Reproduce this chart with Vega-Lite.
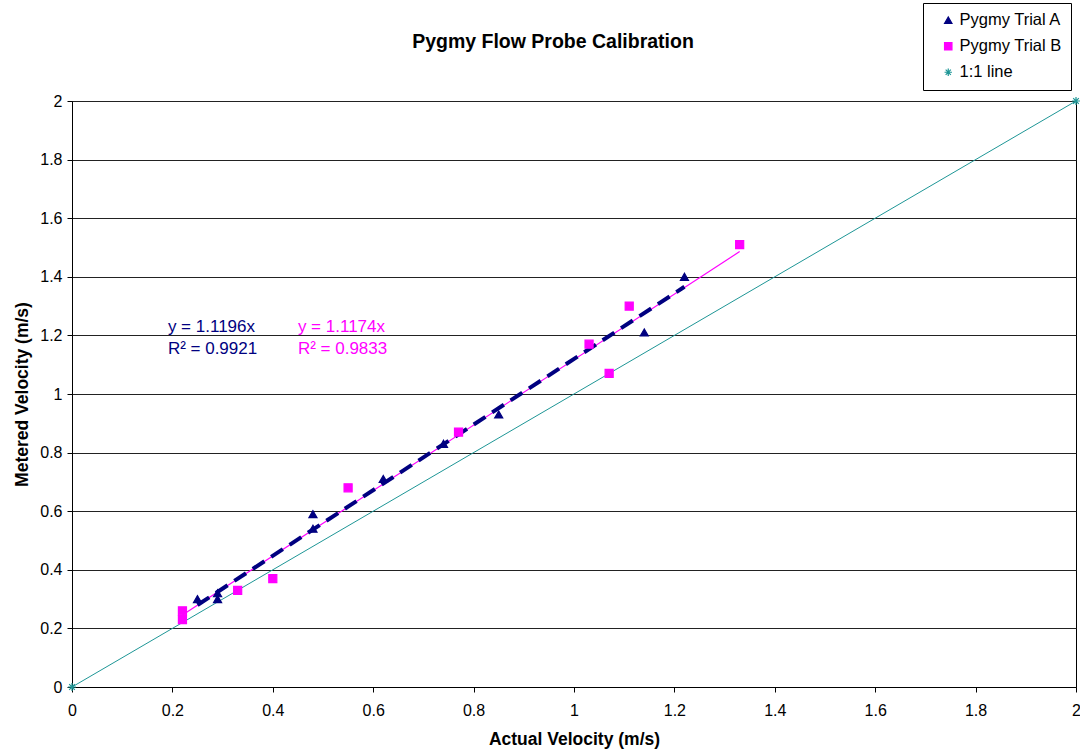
{
  "$schema": "https://vega.github.io/schema/vega-lite/v6.json",
  "width": 1004,
  "height": 586,
  "autosize": {"type": "none"},
  "padding": {"left": 72, "top": 101, "right": 4, "bottom": 63},
  "background": "white",
  "config": {
    "font": "Liberation Sans",
    "view": {"stroke": "black", "strokeWidth": 1},
    "axis": {"labelFontSize": 16, "titleFontSize": 17.5, "titleFontWeight": "bold", "labelColor": "black", "titleColor": "black", "domainColor": "black", "tickColor": "black", "labelFont": "Liberation Sans", "titleFont": "Liberation Sans", "labelFlush": false}
  },
  "title": {"text": "Pygmy Flow Probe Calibration", "fontSize": 19.5, "fontWeight": "bold", "font": "Liberation Sans", "color": "black", "offset": 0, "dy": 50, "dx": -21, "anchor": "middle"},
  "datasets": {
    "pts": [
      {"series": "Pygmy Trial A", "x": 0.25, "y": 0.30},
      {"series": "Pygmy Trial A", "x": 0.29, "y": 0.30},
      {"series": "Pygmy Trial A", "x": 0.29, "y": 0.32},
      {"series": "Pygmy Trial A", "x": 0.48, "y": 0.59},
      {"series": "Pygmy Trial A", "x": 0.48, "y": 0.54},
      {"series": "Pygmy Trial A", "x": 0.62, "y": 0.71},
      {"series": "Pygmy Trial A", "x": 0.74, "y": 0.83},
      {"series": "Pygmy Trial A", "x": 0.85, "y": 0.93},
      {"series": "Pygmy Trial A", "x": 1.14, "y": 1.21},
      {"series": "Pygmy Trial A", "x": 1.22, "y": 1.40},
      {"series": "Pygmy Trial B", "x": 0.22, "y": 0.26},
      {"series": "Pygmy Trial B", "x": 0.22, "y": 0.23},
      {"series": "Pygmy Trial B", "x": 0.33, "y": 0.33},
      {"series": "Pygmy Trial B", "x": 0.40, "y": 0.37},
      {"series": "Pygmy Trial B", "x": 0.55, "y": 0.68},
      {"series": "Pygmy Trial B", "x": 0.77, "y": 0.87},
      {"series": "Pygmy Trial B", "x": 1.03, "y": 1.17},
      {"series": "Pygmy Trial B", "x": 1.07, "y": 1.07},
      {"series": "Pygmy Trial B", "x": 1.11, "y": 1.30},
      {"series": "Pygmy Trial B", "x": 1.33, "y": 1.51},
      {"series": "1:1 line", "x": 0, "y": 0},
      {"series": "1:1 line", "x": 2, "y": 2}
    ],
    "trendA": [{"x": 0.25, "y": 0.2799}, {"x": 1.22, "y": 1.3659}],
    "trendB": [{"x": 0.22, "y": 0.2458}, {"x": 1.33, "y": 1.4861}],
    "oneone": [{"x": 0, "y": 0}, {"x": 2, "y": 2}],
    "labels": [
      {"t": "y = 1.1196x", "x": 0.191, "y": 1.229, "c": "A"},
      {"t": "R² = 0.9921", "x": 0.191, "y": 1.154, "c": "A"},
      {"t": "y = 1.1174x", "x": 0.450, "y": 1.229, "c": "B"},
      {"t": "R² = 0.9833", "x": 0.450, "y": 1.154, "c": "B"}
    ]
  },
  "layer": [
    {
      "data": {"name": "oneone"},
      "mark": {"type": "line", "color": "#1E9696", "strokeWidth": 1, "clip": true},
      "encoding": {
        "x": {"field": "x", "type": "quantitative", "scale": {"domain": [0, 2], "nice": false}, "axis": {"values": [0, 0.2, 0.4, 0.6, 0.8, 1, 1.2, 1.4, 1.6, 1.8, 2], "format": "~g", "title": "Actual Velocity (m/s)", "grid": false, "tickSize": 5, "labelPadding": 10, "titlePadding": 12}},
        "y": {"field": "y", "type": "quantitative", "scale": {"domain": [0, 2], "nice": false}, "axis": {"values": [0, 0.2, 0.4, 0.6, 0.8, 1, 1.2, 1.4, 1.6, 1.8, 2], "format": "~g", "title": "Metered Velocity (m/s)", "grid": true, "gridColor": "#222", "gridWidth": 1, "tickSize": 5, "labelPadding": 5, "titlePadding": 8}}
      }
    },
    {
      "data": {"name": "trendB"},
      "mark": {"type": "line", "color": "#FF00FF", "strokeWidth": 1.2},
      "encoding": {"x": {"field": "x", "type": "quantitative"}, "y": {"field": "y", "type": "quantitative"}}
    },
    {
      "data": {"name": "trendA"},
      "mark": {"type": "line", "color": "#000080", "strokeWidth": 4, "strokeDash": [14, 8]},
      "encoding": {"x": {"field": "x", "type": "quantitative"}, "y": {"field": "y", "type": "quantitative"}}
    },
    {
      "data": {"name": "pts"},
      "mark": {"type": "point", "filled": true, "size": 65, "strokeWidth": 1.2, "opacity": 1, "clip": false},
      "encoding": {
        "x": {"field": "x", "type": "quantitative"},
        "y": {"field": "y", "type": "quantitative"},
        "fill": {"field": "series", "type": "nominal", "scale": {"domain": ["Pygmy Trial A", "Pygmy Trial B", "1:1 line"], "range": ["#000080", "#FF00FF", "#1E9696"]}, "legend": {"title": null}},
        "stroke": {"field": "series", "type": "nominal", "scale": {"domain": ["Pygmy Trial A", "Pygmy Trial B", "1:1 line"], "range": ["#000080", "#FF00FF", "#1E9696"]}, "legend": {"title": null}},
        "shape": {"field": "series", "type": "nominal", "scale": {"domain": ["Pygmy Trial A", "Pygmy Trial B", "1:1 line"], "range": ["triangle-up", "square", "M-1,0L1,0M0,-1L0,1M-0.7,-0.7L0.7,0.7M-0.7,0.7L0.7,-0.7"]}, "legend": {"title": null, "orient": "none", "legendX": 851, "legendY": -98, "padding": 9, "symbolOffset": 8, "strokeColor": "black", "fillColor": "white", "labelFontSize": 16.5, "labelFont": "Liberation Sans", "labelColor": "black", "symbolSize": 55, "rowPadding": 9, "labelOffset": 3, "symbolStrokeWidth": 1.2}}
      }
    },
    {
      "data": {"name": "labels"},
      "mark": {"type": "text", "align": "left", "baseline": "middle", "fontSize": 17, "font": "Liberation Sans"},
      "encoding": {
        "x": {"field": "x", "type": "quantitative"},
        "y": {"field": "y", "type": "quantitative"},
        "text": {"field": "t"},
        "color": {"field": "c", "type": "nominal", "scale": {"domain": ["A", "B"], "range": ["#000080", "#FF00FF"]}, "legend": null}
      }
    }
  ]
}
